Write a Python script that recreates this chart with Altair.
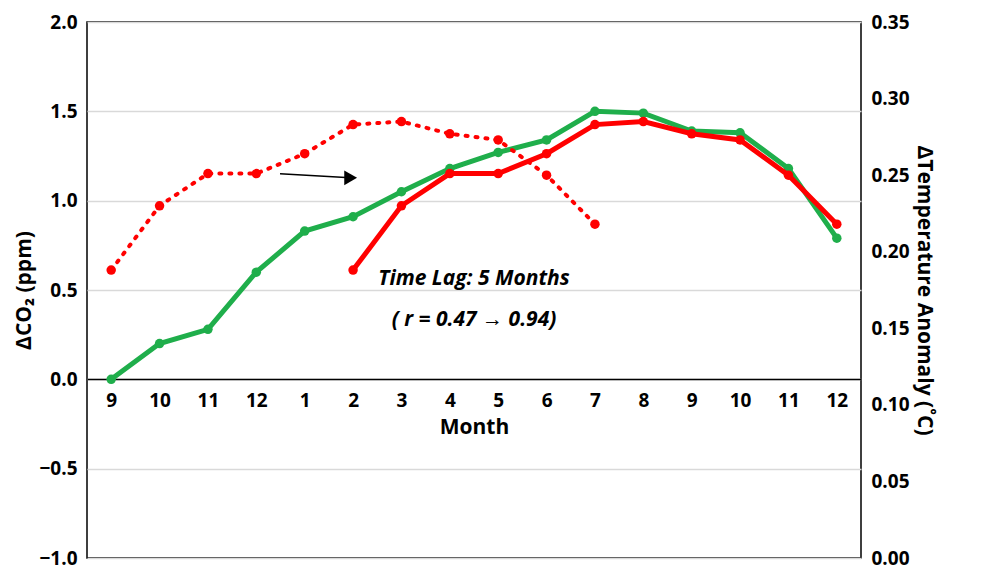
import altair as alt
import pandas as pd

months = ["9","10","11","12","1","2","3","4","5","6","7","8","9","10","11","12"]
co2 = [0, 0.2, 0.28, 0.6, 0.83, 0.91, 1.05, 1.18, 1.27, 1.34, 1.5, 1.49, 1.39, 1.38, 1.18, 0.79]
temp = [0.188, 0.230, 0.251, 0.251, 0.264, 0.283, 0.285, 0.277, 0.273, 0.250, 0.218]
lag = 5

df_g = pd.DataFrame({"i": range(16), "v": co2})
df_d = pd.DataFrame({"i": range(len(temp)), "v": temp})
df_s = pd.DataFrame({"i": [k + lag for k in range(len(temp))], "v": temp})

label_expr = "[" + ",".join(f"'{m}'" for m in months) + "][datum.value]"
F = "Open Sans"
xs = alt.Scale(domain=[-0.5, 15.5], nice=False)
xenc = alt.X("i:Q", scale=xs,
             axis=alt.Axis(values=list(range(16)), labelExpr=label_expr, title="Month",
                           offset=-179, domainColor="black", domainWidth=1.5, ticks=False,
                           grid=False, labelFontSize=19, labelFontWeight="bold", labelFont=F,
                           titleFontSize=21, titleFont=F, titleFontWeight="bold", labelPadding=12, titlePadding=6))
yl = alt.Scale(domain=[-1, 2], nice=False)
yr = alt.Scale(domain=[0, 0.35], nice=False)

green = alt.Chart(df_g).mark_line(color="#1fae4b", strokeWidth=5, point=alt.OverlayMarkDef(color="#1fae4b", size=90)).encode(
    x=xenc,
    y=alt.Y("v:Q", scale=yl, axis=alt.Axis(values=[-1, -0.5, 0, 0.5, 1, 1.5, 2], title="ΔCO₂ (ppm)",
            labelFontSize=19, labelFontWeight="bold", labelFont=F, titleFont=F, titleFontSize=21,
            titleFontWeight="bold", domain=False, ticks=False, gridColor="#d9d9d9", gridWidth=1.5, labelPadding=10)))

arrow_line = alt.Chart(pd.DataFrame({"i": [3.49], "i2": [4.85], "v": [1.15], "v2": [1.13]})).mark_rule(color="black", strokeWidth=1.5).encode(
    x=alt.X("i:Q", scale=xs), x2="i2", y=alt.Y("v:Q", scale=yl), y2="v2")
arrow_head = alt.Chart(pd.DataFrame({"i": [4.95], "v": [1.128]})).mark_point(shape="triangle-right", filled=True, color="black", size=220, opacity=1).encode(
    x=alt.X("i:Q", scale=xs), y=alt.Y("v:Q", scale=yl))
texts = alt.Chart(pd.DataFrame({"i": [7.5, 7.5], "v": [0.56, 0.33], "t": ["Time Lag: 5 Months", "( r = 0.47 → 0.94)"]})).mark_text(
    fontSize=21, fontStyle="italic", fontWeight="bold", font=F, color="black").encode(
    x=alt.X("i:Q", scale=xs), y=alt.Y("v:Q", scale=yl), text="t:N")

left = alt.layer(green, arrow_line, arrow_head, texts)

yenc_r = alt.Y("v:Q", scale=yr, axis=alt.Axis(orient="right", values=[0, 0.05, 0.1, 0.15, 0.2, 0.25, 0.3, 0.35],
               title="ΔTemperature Anomaly (˚C)", labelFontSize=19, labelFontWeight="bold", labelFont=F,
               titleFont=F, titleFontSize=21, titleFontWeight="bold", domain=False, ticks=False, grid=False, labelPadding=10))
dotted = alt.Chart(df_d).mark_line(color="#ff0000", strokeWidth=4, strokeDash=[2, 8], strokeCap="round",
                                   point=alt.OverlayMarkDef(color="#ff0000", size=90)).encode(x=alt.X("i:Q", scale=xs), y=yenc_r)
solid = alt.Chart(df_s).mark_line(color="#ff0000", strokeWidth=5, point=alt.OverlayMarkDef(color="#ff0000", size=90)).encode(
    x=alt.X("i:Q", scale=xs), y=alt.Y("v:Q", scale=yr))
right = alt.layer(dotted, solid)

chart = alt.layer(left, right).resolve_scale(y="independent").properties(
    width=774, height=536, background="white").configure_view(stroke="black", strokeWidth=1.5)
chart.save("out.html", embed_options={"renderer": "svg", "actions": False})
